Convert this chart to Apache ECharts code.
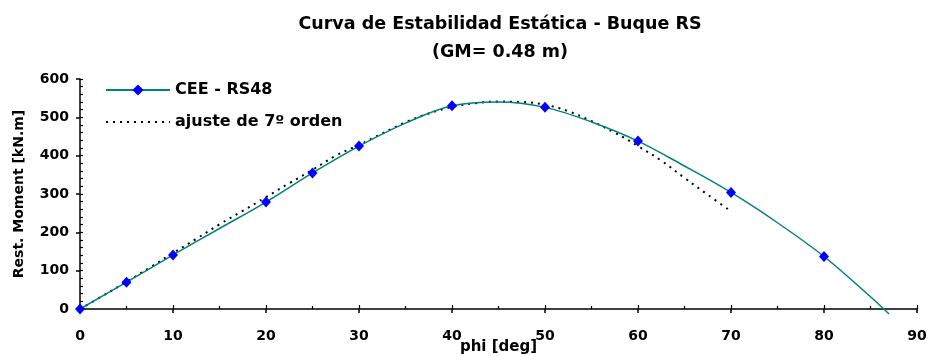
<!DOCTYPE html>
<html>
<head>
<meta charset="utf-8">
<script src="https://cdn.jsdelivr.net/npm/echarts@6/dist/echarts.min.js"></script>
<style>
  html, body { margin: 0; padding: 0; background: #ffffff; }
  #chart { width: 928px; height: 356px; }
</style>
</head>
<body>
<div id="chart"></div>
<script>
// Static stability curve (righting moment vs heel angle)
const heelAngles = [0, 5, 10, 15, 20, 25, 30, 35, 40, 45, 50, 55, 60, 65, 70, 75, 80, 85, 87];
const restMoment = [0, 70, 141, 210, 279, 355, 425, 485, 530, 540, 526, 488, 438, 373, 304, 225, 137, 32, -13];
// Angles that carry a marker on the measured curve
const markedAngles = [0, 5, 10, 20, 25, 30, 40, 50, 60, 70, 80];

// 7th-order polynomial fit, read along its length
const fitAngles = [0, 2.5, 5, 7.5, 10, 12.5, 15, 17.5, 20, 22.5, 25, 27.5, 30, 32.5, 35, 37.5, 40, 42.5, 45, 47.5, 50, 52.5, 55, 57.5, 60, 62.5, 65, 67.5, 70];
const fitMoment = [0, 35, 71, 108, 146, 183, 221, 256, 292, 328, 363, 400, 428, 458, 487, 510, 527, 537, 541, 540, 533, 516, 490, 460, 425, 387, 342, 298, 255];

const xTicks = [0, 10, 20, 30, 40, 50, 60, 70, 80, 90];
const yTicks = [0, 100, 200, 300, 400, 500, 600];

const FONT = 'DejaVu Sans, Verdana, sans-serif';

const curveData = heelAngles.map((a, i) => {
  const item = { value: [a, restMoment[i]] };
  if (markedAngles.indexOf(a) < 0) item.symbol = 'none';
  return item;
});
const fitData = fitAngles.map((a, i) => [a, fitMoment[i]]);

const chart = echarts.init(document.getElementById('chart'), null, { renderer: 'canvas' });

const axisLine = { show: true, lineStyle: { color: '#000', width: 1.5 } };

chart.setOption({
  backgroundColor: '#ffffff',
  animation: false,
  title: {
    text: 'Curva de Estabilidad Estática - Buque RS\n(GM= 0.48 m)',
    left: 495,
    top: 5,
    textAlign: 'center',
    textStyle: { fontFamily: FONT, fontWeight: 'bold', fontSize: 17.5, lineHeight: 28, color: '#000' }
  },
  legend: {
    left: 100,
    top: 77,
    orient: 'vertical',
    itemWidth: 64,
    itemHeight: 14,
    itemGap: 16,
    textStyle: { fontFamily: FONT, fontWeight: 'bold', fontSize: 16, color: '#000' },
    data: [
      { name: 'CEE - RS48' },
      { name: 'ajuste de 7º orden', itemStyle: { opacity: 0 } }
    ]
  },
  grid: { left: 80, right: 11, top: 79, bottom: 47, containLabel: false, outerBoundsMode: 'none' },
  xAxis: [
    {
      type: 'value', min: 0, max: 90, interval: 10,
      axisLine: axisLine,
      axisTick: { show: true, inside: false, length: 4, lineStyle: { color: '#000', width: 1.5 } },
      axisLabel: {
        margin: 20, fontFamily: FONT, fontWeight: 'bold', fontSize: 14, color: '#000',
        formatter: v => (xTicks.indexOf(v) >= 0 ? String(v) : '')
      },
      splitLine: { show: false },
      name: 'phi [deg]',
      nameLocation: 'middle',
      nameGap: 31,
      nameMoveOverlap: false,
      nameTextStyle: { fontFamily: FONT, fontWeight: 'bold', fontSize: 15, color: '#000' }
    },
    {
      // inner tick marks (major + minor) on the same scale
      type: 'value', min: 0, max: 90, interval: 10, position: 'bottom',
      axisLine: { show: false },
      axisTick: { show: true, inside: true, length: 4, lineStyle: { color: '#000', width: 1.2 } },
      minorTick: { show: true, splitNumber: 2, length: 3, lineStyle: { color: '#000', width: 1.2 } },
      axisLabel: { show: false },
      splitLine: { show: false }
    }
  ],
  yAxis: [
    {
      type: 'value', min: 0, max: 600, interval: 100,
      axisLine: axisLine,
      axisTick: { show: true, inside: false, length: 4, lineStyle: { color: '#000', width: 1.5 } },
      axisLabel: {
        margin: 11, fontFamily: FONT, fontWeight: 'bold', fontSize: 14, color: '#000',
        formatter: v => (yTicks.indexOf(v) >= 0 ? String(v) : '')
      },
      splitLine: { show: false },
      name: 'Rest. Moment [kN.m]',
      nameLocation: 'middle',
      nameGap: 54,
      nameMoveOverlap: false,
      nameTextStyle: { fontFamily: FONT, fontWeight: 'bold', fontSize: 14, color: '#000' }
    },
    {
      type: 'value', min: 0, max: 600, interval: 100, position: 'left',
      axisLine: { show: false },
      axisTick: { show: true, inside: true, length: 3, lineStyle: { color: '#000', width: 1.2 } },
      minorTick: { show: true, splitNumber: 5, length: 3, lineStyle: { color: '#000', width: 1.2 } },
      axisLabel: { show: false },
      splitLine: { show: false }
    }
  ],
  series: [
    {
      name: 'CEE - RS48',
      type: 'line',
      data: curveData,
      smooth: 0.35,
      clip: false,
      symbol: 'diamond',
      symbolSize: [10, 11],
      itemStyle: { color: '#0000ff' },
      lineStyle: { color: '#008080', width: 1.5 },
      z: 3
    },
    {
      name: 'ajuste de 7º orden',
      type: 'line',
      data: fitData,
      smooth: 0.4,
      symbol: 'none',
      itemStyle: { color: '#000' },
      lineStyle: { color: '#000', width: 2, type: [2, 5] },
      z: 2
    }
  ]
});
</script>
</body>
</html>
